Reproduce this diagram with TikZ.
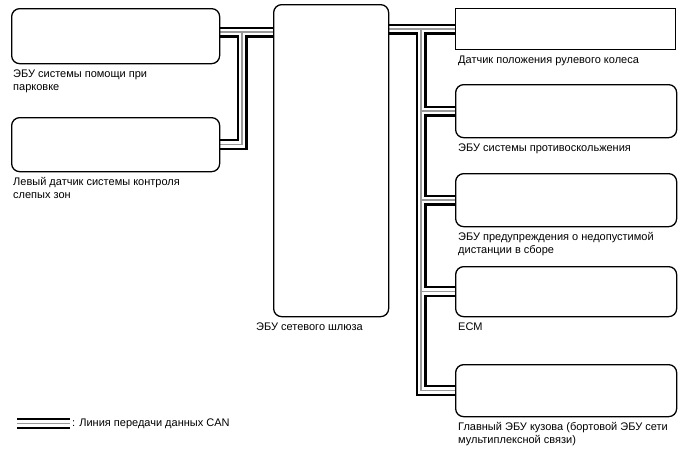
\documentclass[tikz,border=0pt]{standalone}
\usepackage{fontspec}
\setmainfont{Liberation Sans}
\usepackage{xcolor}
\usepackage{tikz}
\usetikzlibrary{calc, backgrounds}
\definecolor{busGray}{HTML}{9A9A9A}
\tikzset{
    ecubox/.style={draw, fill=white, line width=1.3pt, rounded corners=8pt,
        anchor=north west, inner sep=0pt},
    caption/.style={anchor=north west, inner sep=0pt, align=left,
        font=\fontsize{11}{13}\selectfont},
}

\begin{document}
\begin{tikzpicture}[x=1pt, y=-1pt]
    \useasboundingbox (0,0) rectangle (688,463);

    % left side
    \node[ecubox, minimum width=208, minimum height=55] (park) at (11,8) {};
    \node[ecubox, minimum width=208, minimum height=54] (bsm) at (11,117) {};
    \node[caption] (parkL) at ([shift={(2,5)}]park.south west) {ЭБУ системы помощи при\\парковке};
    \node[caption] (bsmL) at ([shift={(2,5)}]bsm.south west) {Левый датчик системы контроля\\слепых зон};

    % gateway
    \node[ecubox, minimum width=115, minimum height=312] (gw) at (273,4) {};
    \node[caption] (gwL) at ([shift={(-17,5)}]gw.south west) {ЭБУ сетевого шлюза};

    % right side
    \node[ecubox, sharp corners, minimum width=220, minimum height=41] (steer) at (455,8) {};
    \node[ecubox, minimum width=221, minimum height=53] (vsc) at (455,84) {};
    \node[ecubox, minimum width=221, minimum height=53] (pcs) at (455,173) {};
    \node[ecubox, minimum width=221, minimum height=50] (ecm) at (455,266) {};
    \node[ecubox, minimum width=221, minimum height=52] (body) at (455,364) {};
    \node[caption] (steerL) at ([shift={(3,5)}]steer.south west) {Датчик положения рулевого колеса};
    \node[caption] (vscL) at ([shift={(3,5)}]vsc.south west) {ЭБУ системы противоскольжения};
    \node[caption] (pcsL) at ([shift={(3,5)}]pcs.south west) {ЭБУ предупреждения о недопустимой\\дистанции в сборе};
    \node[caption] (ecmL) at ([shift={(3,5)}]ecm.south west) {ECM};
    \node[caption] (bodyL) at ([shift={(3,5)}]body.south west) {Главный ЭБУ кузова (бортовой ЭБУ сети\\мультиплексной связи)};

    % legend
    \coordinate (legA) at (17,423.5);
    \coordinate (legB) at (70,423.5);
    \node[caption, anchor=west] (legT) at ([xshift=2]legB) {: Линия передачи данных CAN};

    % CAN bus
    \coordinate (ljn) at (242,32);
    \coordinate (rjn) at (421,28.5);
    \begin{scope}[on background layer]
        \foreach \w/\c in {11/black, 6.5/white, 1.5/busGray} {
            \draw[line width=\w, \c] (park.east |- ljn) -- (gw.west |- ljn);
            \draw[line width=\w, \c] (ljn) |- (bsm.east);
            \draw[line width=\w, \c] (gw.east |- steer.west) -- (steer.west);
            \draw[line width=\w, \c] (rjn) |- (body.west);
            \foreach \n in {vsc, pcs, ecm}
                \draw[line width=\w, \c] (rjn |- \n.west) -- (\n.west);
            \draw[line width=\w, \c] (legA) -- (legB);
        }
    \end{scope}
\end{tikzpicture}
\end{document}
